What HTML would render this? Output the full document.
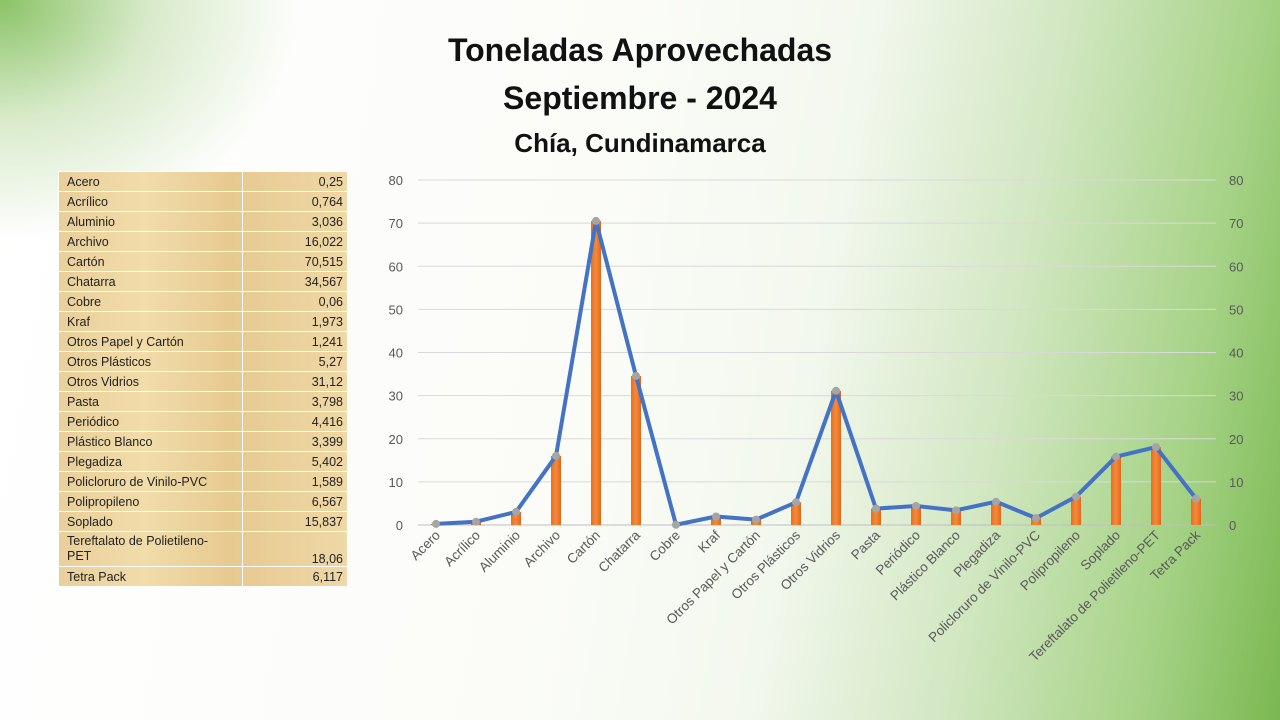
<!DOCTYPE html>
<html><head><meta charset="utf-8"><style>
html,body{margin:0;padding:0}
body{width:1280px;height:720px;overflow:hidden;position:relative;font-family:"Liberation Sans",sans-serif;
background:
radial-gradient(ellipse 300px 240px at 0 0, rgba(125,188,85,0.9), rgba(170,210,140,0.45) 50%, rgba(255,255,255,0) 100%),
linear-gradient(100deg, #fff 0%, #fbfcf8 45%, #f3f8ee 62%, #d2e7c2 76%, #a5d285 90%, #7ab850 100%);}
.t{position:absolute;left:0;width:1280px;text-align:center;font-weight:bold;color:#111}
table{position:absolute;left:58px;top:171px;width:289px;table-layout:fixed;border-collapse:collapse;font-size:12.5px;color:#222;
background:linear-gradient(90deg,#e9cf9a,#f1dcaa 30%,#e6c98f 60%,#efd8a6);}
td{border:1px solid #fff;padding:0 4px 0 8px;height:19px;line-height:14px;overflow:hidden}
td.v{text-align:right}
</style></head><body>
<div class="t" style="top:32px;font-size:32px">Toneladas Aprovechadas</div>
<div class="t" style="top:80px;font-size:32px">Septiembre - 2024</div>
<div class="t" style="top:128px;font-size:26px">Chía, Cundinamarca</div>
<table>
<colgroup><col style="width:184px"><col style="width:105px"></colgroup>
<tr><td>Acero</td><td class="v">0,25</td></tr>
<tr><td>Acrílico</td><td class="v">0,764</td></tr>
<tr><td>Aluminio</td><td class="v">3,036</td></tr>
<tr><td>Archivo</td><td class="v">16,022</td></tr>
<tr><td>Cartón</td><td class="v">70,515</td></tr>
<tr><td>Chatarra</td><td class="v">34,567</td></tr>
<tr><td>Cobre</td><td class="v">0,06</td></tr>
<tr><td>Kraf</td><td class="v">1,973</td></tr>
<tr><td>Otros Papel y Cartón</td><td class="v">1,241</td></tr>
<tr><td>Otros Plásticos</td><td class="v">5,27</td></tr>
<tr><td>Otros Vidrios</td><td class="v">31,12</td></tr>
<tr><td>Pasta</td><td class="v">3,798</td></tr>
<tr><td>Periódico</td><td class="v">4,416</td></tr>
<tr><td>Plástico Blanco</td><td class="v">3,399</td></tr>
<tr><td>Plegadiza</td><td class="v">5,402</td></tr>
<tr><td>Policloruro de Vinilo-PVC</td><td class="v">1,589</td></tr>
<tr><td>Polipropileno</td><td class="v">6,567</td></tr>
<tr><td>Soplado</td><td class="v">15,837</td></tr>
<tr><td style="height:34px;line-height:15px;padding-top:0">Tereftalato de Polietileno-<br>PET</td><td class="v" style="vertical-align:bottom">18,06</td></tr>
<tr><td>Tetra Pack</td><td class="v">6,117</td></tr>
</table>
<svg id="c" width="1280" height="720" style="position:absolute;left:0;top:0" font-family="Liberation Sans, sans-serif"></svg>
<script>
const N=["Acero","Acrílico","Aluminio","Archivo","Cartón","Chatarra","Cobre","Kraf","Otros Papel y Cartón","Otros Plásticos","Otros Vidrios","Pasta","Periódico","Plástico Blanco","Plegadiza","Policloruro de Vinilo-PVC","Polipropileno","Soplado","Tereftalato de Polietileno-PET","Tetra Pack"];
const V=[0.25,0.764,3.036,16.022,70.515,34.567,0.06,1.973,1.241,5.27,31.12,3.798,4.416,3.399,5.402,1.589,6.567,15.837,18.06,6.117];
let s='<defs><linearGradient id="g" x1="0" y1="0" x2="1" y2="0"><stop offset="0" stop-color="#e8701f"/><stop offset="0.5" stop-color="#f5893a"/><stop offset="1" stop-color="#e0661a"/></linearGradient></defs>';
const Y=v=>525-v*4.3125;
for(let i=0;i<=8;i++){const y=Y(i*10);
s+=`<line x1="418" x2="1216" y1="${y}" y2="${y}" stroke="${i?'#d9d9d9':'#bfbfbf'}" stroke-width="1"/>`;
s+=`<text x="403" y="${y+5}" font-size="13" fill="#595959" text-anchor="end">${i*10}</text>`;
s+=`<text x="1229" y="${y+5}" font-size="13" fill="#595959">${i*10}</text>`;}
let pts=[];
N.forEach((n,i)=>{const x=436+40*i,y=Y(V[i]);pts.push(x+','+y);
s+=`<rect x="${x-5}" y="${y}" width="10" height="${525-y}" fill="url(#g)"/>`;
s+=`<text transform="translate(${x+5},536) rotate(-45)" font-size="13.5" fill="#595959" text-anchor="end">${n}</text>`;});
s+=`<polyline points="${pts.join(' ')}" fill="none" stroke="#4472c4" stroke-width="4" stroke-linejoin="round"/>`;
pts.forEach(p=>{const [x,y]=p.split(',');s+=`<circle cx="${x}" cy="${y}" r="4" fill="#a5a5a5"/>`;});
document.getElementById('c').innerHTML=s;
</script>
</body></html>
